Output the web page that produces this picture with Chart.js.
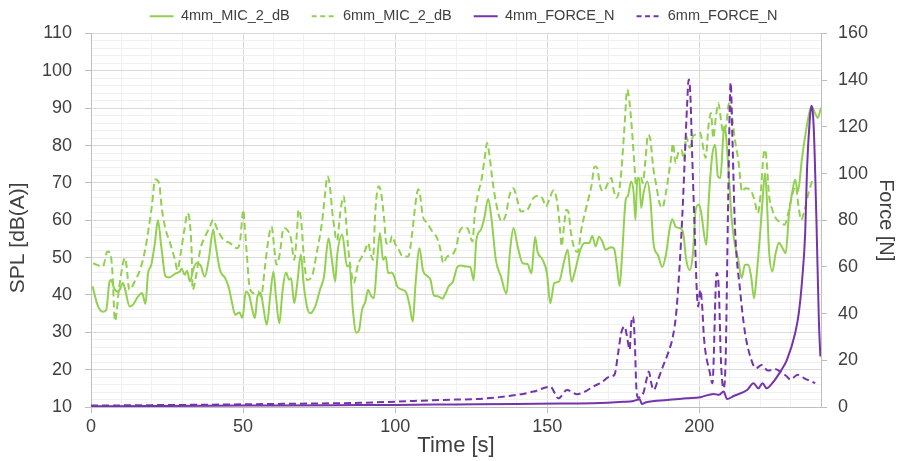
<!DOCTYPE html>
<html>
<head>
<meta charset="utf-8">
<script src="https://cdn.jsdelivr.net/npm/chart.js@4.4.1/dist/chart.umd.min.js"></script>
<style>
  html, body { margin: 0; padding: 0; background: #ffffff; }
  #chart { display: block; }
</style>
</head>
<body>
<canvas id="chart" width="903" height="461"></canvas>
<script>
// series names (legend order)
const seriesNames = ['4mm_MIC_2_dB', '6mm_MIC_2_dB', '4mm_FORCE_N', '6mm_FORCE_N'];

// 4mm microphone, SPL [dB(A)] vs time [s]
const mic4Time = [0.5, 2.3, 3.9, 5, 6.1, 6.6, 7.6, 8.7, 9.5, 10.5, 11.2, 12.7, 13.8, 15.5, 16.8, 17.9, 18.75, 19.8, 21, 22, 23.1, 24.5, 25.7, 27.7, 29.2, 29.8, 30.8, 31.6, 32.5, 33.6, 34.6, 36, 37.4, 38.7, 40.2, 40.8, 42.4, 44.1, 45.2, 46.3, 47.4, 48.8, 49.8, 50.9, 52.1, 52.9, 53.9, 54.7, 55.8, 56.6, 57.8, 58.9, 60, 60.8, 61.9, 63, 64.1, 65.1, 65.8, 66.8, 67.8, 69, 69.9, 71, 72, 73.7, 75.3, 76.6, 78.1, 79.2, 80.3, 80.9, 82.6, 84.2, 85, 86.1, 87.2, 88.1, 89.1, 90.2, 91.1, 91.9, 93, 94.1, 95, 96, 96.9, 97.7, 98.8, 99.6, 100.7, 102.3, 103.6, 104.7, 105.8, 106.7, 108, 109.1, 110.5, 111.6, 112.7, 114.3, 115.5, 116.6, 117.6, 119, 120.4, 121.6, 123.3, 124.7, 125.8, 126.7, 128.2, 129.2, 130.6, 131.7, 133.1, 134.8, 136.6, 137.8, 138.9, 140.3, 141.9, 143.5, 144.8, 146, 146.8, 148.5, 149.9, 151, 152.3, 153.9, 155.4, 156.7, 158, 159.1, 160.9, 162.3, 163.8, 164.8, 165.9, 167, 168.1, 169.2, 171.1, 172.1, 172.9, 173.8, 174.7, 175.8, 176.5, 177.6, 178.4, 179, 179.6, 180.2, 180.9, 181.7, 182.9, 183.9, 185, 186.4, 187.8, 189, 190.2, 191.1, 192.2, 193.5, 194.6, 195.7, 196.8, 197.9, 198.8, 199.9, 200.6, 202.3, 203.1, 204.2, 205.2, 206.1, 206.9, 207.9, 208.2, 208.7, 209.8, 210.6, 211.7, 212.8, 213.9, 215, 216.1, 217, 218, 218.9, 220, 220.8, 221.6, 222.1, 222.9, 224, 225.1, 226.2, 227.3, 228.4, 229.5, 230.6, 231.5, 232.4, 233.7, 234.8, 235.9, 236.9, 238, 238.9, 240];
const mic4Db = [42.3, 37, 35.5, 36, 43.6, 44, 41.8, 40.9, 41.5, 43.2, 41.5, 36.9, 37.4, 39.6, 40.5, 37.6, 45.8, 48, 53.9, 60, 53, 45, 44.7, 45.7, 46.3, 47, 45.4, 46.5, 43.6, 46.7, 48.5, 48, 44.9, 49.4, 57.5, 54.3, 46.7, 44.5, 42.3, 38.2, 34.7, 35.3, 33.8, 40.9, 39.6, 36.6, 33.8, 39.6, 40.6, 37, 32, 39.6, 46.3, 39.6, 32.4, 41.3, 46, 44.1, 44.5, 37.8, 43, 50.8, 43, 36.9, 35.1, 36.9, 41.4, 44.9, 55.2, 49.4, 43.6, 50.3, 56.1, 47.6, 48, 36, 29.9, 30.5, 36, 38.2, 41.4, 40, 39.1, 49.4, 56.6, 49.4, 50.3, 45.8, 46, 45.1, 42.3, 41.4, 40.7, 37.4, 32.9, 43, 52.5, 46.7, 45.1, 44.1, 39.9, 39.6, 39, 40.5, 42.3, 43.6, 47.4, 47.9, 47.6, 47.5, 44, 54.8, 57.5, 60.2, 65.7, 60.2, 49.4, 44.9, 40.3, 52.1, 57.9, 52.9, 48.5, 48.3, 45.8, 55.5, 51.6, 49.4, 45.8, 37.8, 43.2, 43.6, 48.5, 52.1, 43.6, 46.3, 52.1, 53.9, 53.9, 55.8, 53, 55.6, 54.3, 52.1, 52.8, 52.1, 47.6, 42.4, 52, 65.5, 66.5, 70.4, 67.4, 60.1, 70.9, 71.3, 63.3, 67.5, 70.4, 65.5, 53.4, 50.7, 47.5, 50.7, 57.5, 60.3, 58.3, 57.9, 57, 49.4, 46.7, 51.2, 62.8, 64.2, 62, 53.4, 65.5, 77.1, 80.2, 71.7, 71.3, 82.9, 85.1, 83.3, 70.9, 60.6, 53.4, 49.4, 44.5, 48.1, 48.1, 45.1, 39.1, 45.8, 56.6, 65.5, 72.6, 67.3, 52.1, 46.3, 51.2, 54, 52.6, 51.2, 61.9, 67.7, 70.9, 67.6, 76.2, 82.5, 87.8, 90.5, 88.7, 87.4, 90.1];

// 6mm microphone, SPL [dB(A)] vs time [s]
const mic6Time = [0.7, 3.9, 5.4, 6.3, 7, 7.9, 9.3, 11.2, 11.7, 12.6, 14.6, 16.1, 17.8, 18.9, 20, 21.1, 22.4, 23.2, 24.3, 26, 27.6, 28.4, 29.5, 30.6, 31.8, 32.5, 33.1, 33.4, 34.7, 35.9, 37.5, 39.1, 40.2, 41.3, 43.5, 45.7, 47.9, 49, 50.1, 50.4, 51.2, 52.1, 53.4, 55, 55.9, 57.2, 58.3, 59.4, 60.2, 61, 62.1, 63.3, 64.9, 65.8, 66.8, 67.7, 68.2, 69, 69.9, 71, 72.6, 74.2, 75.9, 77, 77.7, 78.4, 79.5, 80.9, 82, 83.1, 83.6, 84.5, 85.3, 86.4, 87.8, 89.1, 90.2, 91.1, 91.9, 92.7, 93.5, 94.6, 95.4, 96.3, 97.1, 98.1, 99, 100.1, 101.2, 102.5, 104.3, 105.6, 106.7, 107.6, 108.2, 109.1, 110.5, 112.2, 113.8, 114.9, 115.8, 117.1, 118.8, 120.2, 121, 122.8, 124, 125.4, 126.2, 127.3, 128.4, 129.5, 130.2, 130.9, 131.7, 132.6, 133.9, 135, 136.4, 137.5, 138.9, 140, 141.3, 143, 144.4, 145.5, 147.4, 148.5, 149.6, 150.7, 152.1, 152.9, 153.6, 154.3, 154.7, 155.6, 156.3, 156.9, 157.8, 158.9, 160, 161.2, 162.8, 164.5, 165.6, 166.4, 167.4, 168.5, 170, 171.1, 171.8, 172.7, 173.6, 174.3, 175.4, 176.3, 177.1, 178, 178.7, 179.2, 179.8, 180.7, 181.4, 182.3, 183.1, 183.9, 184.8, 185.9, 186.9, 187.8, 188.9, 190, 190.8, 191.3, 192.2, 193, 194.1, 194.9, 195.7, 196.8, 197.9, 199.2, 200.3, 200.8, 202.1, 203, 203.8, 204.6, 205.4, 206.3, 206.8, 207.9, 209, 209.5, 210.1, 210.9, 211.7, 212.8, 214.1, 215.1, 216.7, 218.1, 219.2, 220.3, 221, 221.6, 222.1, 222.9, 224, 225.1, 226.5, 228, 229, 230.2, 231, 231.7, 232.6, 233.5, 234.6, 235.9, 237.5];
const mic6Db = [48.5, 47.6, 51.6, 51.2, 46.7, 33, 42.3, 49.9, 47.6, 41.4, 44, 46.7, 52.1, 57.5, 63.7, 70.9, 70, 63.7, 58.3, 53.9, 49.4, 46.7, 51.2, 57, 61.9, 59.3, 51.2, 41.4, 45.8, 52.1, 55.6, 58.3, 60.1, 58, 54.8, 53.9, 52.5, 54.3, 62.8, 60, 51.2, 42.3, 40.5, 41, 39.6, 47.6, 54.8, 58.3, 52.9, 48.1, 51.2, 57.9, 57, 54.8, 49.4, 56.6, 62.8, 60.6, 51.2, 44, 44.9, 51.2, 59.2, 67.3, 71.7, 70, 61, 54.5, 62.4, 66.4, 62.8, 53, 47.6, 43.2, 48.2, 50.3, 52.1, 53.9, 51.2, 49.4, 62.8, 69.1, 67.3, 61, 53.9, 53.5, 55.8, 53.5, 52.1, 50.3, 50.3, 56.6, 64.6, 68.3, 66.7, 61, 59.3, 57, 55.2, 52.1, 48.5, 50.3, 50.8, 53.2, 56.6, 58.1, 57.6, 54.3, 61.9, 67.3, 70.9, 77.1, 80.7, 78, 72.6, 67.3, 61.9, 59.7, 61.5, 66.4, 68.6, 65.9, 62.4, 62.4, 64.2, 66, 66.6, 65.7, 63.7, 65.7, 68, 66.4, 62.8, 56.6, 53, 59.1, 62.8, 62.4, 56.6, 52.5, 51.5, 57.5, 63.3, 69.1, 74.4, 74, 69.1, 67.8, 70, 71.3, 68.2, 66, 67.8, 72.6, 85.1, 95, 91.2, 82.5, 74.4, 69.1, 71.3, 71.7, 70, 76.2, 82.9, 81.6, 74.4, 69.1, 64.6, 63.3, 66.8, 72.6, 77.1, 80.6, 75.3, 78, 78.9, 76.2, 82.5, 79.4, 82.5, 83, 83.4, 81.6, 76.7, 85.1, 88.7, 82, 87.4, 91.4, 88.7, 83.4, 86.6, 90.5, 91.4, 86.9, 81.6, 76.2, 67.7, 68.6, 68.2, 65.5, 61.9, 68.2, 76.7, 78.9, 76.2, 66.8, 62.8, 60.6, 59.5, 58.8, 61, 65.5, 68.2, 69.1, 63.7, 60.1, 62.8, 67.3, 71.5];

// 4mm force [N] vs time [s]
const force4Time = [0, 20, 50, 80, 100, 120, 140, 155, 165, 175, 178.4, 180.4, 181.1, 182.5, 189.4, 195.9, 200.3, 204.7, 206.4, 208, 209.1, 211.3, 215.7, 217.8, 219.4, 220.8, 222.1, 224, 227, 228.8, 231.5, 232.7, 233.8, 234.8, 235.4, 236.3, 236.8, 237.6, 238.5, 239.3, 239.8];
const force4N = [0.3, 0.4, 0.6, 0.8, 0.9, 1.1, 1.3, 1.5, 1.6, 2.2, 2.6, 3.3, 1.3, 2, 3, 3.7, 4.2, 5.6, 5.2, 6.6, 3.4, 4.7, 7.3, 10.2, 8, 10.2, 8, 10.2, 15.9, 20.2, 31.6, 40.2, 54.5, 74.5, 101.7, 123, 129, 120, 80, 37, 21.6];

// 6mm force [N] vs time [s]
const force6Time = [0, 20, 40, 60, 88.5, 100, 114.8, 130.2, 140, 145.5, 151, 153.7, 156.5, 159.8, 163, 165, 167.8, 170.5, 172.1, 173.3, 174.3, 175.4, 176.2, 177.1, 177.6, 178.2, 178.8, 179.3, 179.9, 181.7, 182.6, 183.4, 184.2, 185, 186.4, 188, 189.7, 191.3, 192.4, 193.5, 194.4, 195.2, 196, 196.5, 197, 197.7, 198.5, 199.2, 199.6, 200.3, 200.9, 201.5, 203.5, 204.3, 205.7, 206.4, 207.1, 207.9, 208.6, 209.5, 210.3, 210.9, 211.7, 213.4, 215, 216.9, 218.6, 220.5, 222.5, 225.2, 227.2, 228.4, 230, 232.3, 234.5, 238.1];
const force6N = [0.6, 0.8, 1, 1.3, 1.8, 2.3, 3, 3.7, 5.2, 6.6, 8.7, 3.7, 7.3, 5.5, 7, 8.7, 10.5, 13, 13.8, 23, 31.6, 34.5, 30.3, 24.5, 35.6, 38.8, 27.6, 8, 4, 6.4, 11.6, 15.2, 10.2, 7.3, 11.6, 17.3, 23, 30.2, 40.2, 60.2, 81.7, 106, 130, 140.3, 135, 106, 74.5, 48.8, 43, 50.2, 44, 30, 14.4, 10.2, 57.4, 50.5, 20, 8, 18, 90, 139, 114, 77.4, 50, 32, 21, 16.6, 18, 15.6, 16.2, 14.4, 13.5, 11.8, 13.8, 12.3, 10.2];

// axis ranges
const timeRange = [0, 240];
const splRange = [10, 110];
const forceRange = [0, 160];

const green = '#92d050';
const purple = '#7434ab';
const textColor = '#404040';
const fontFamily = "'Liberation Sans', Arial, sans-serif";

function toPoints(xs, ys) {
    return xs.map((x, i) => ({ x: x, y: ys[i] }));
}

document.addEventListener("DOMContentLoaded", function () {
    const ctx = document.getElementById('chart').getContext('2d');

    const lineDefaults = {
        borderWidth: 2,
        pointRadius: 0,
        fill: false,
        cubicInterpolationMode: 'monotone'
    };

    new Chart(ctx, {
        type: 'line',
        data: {
            datasets: [
                Object.assign({}, lineDefaults, {
                    label: seriesNames[0],
                    data: toPoints(mic4Time, mic4Db),
                    borderColor: green,
                    backgroundColor: green,
                    yAxisID: 'y',
                    order: 3
                }),
                Object.assign({}, lineDefaults, {
                    label: seriesNames[1],
                    data: toPoints(mic6Time, mic6Db),
                    borderColor: green,
                    backgroundColor: green,
                    borderDash: [7, 4],
                    yAxisID: 'y',
                    order: 2
                }),
                Object.assign({}, lineDefaults, {
                    label: seriesNames[2],
                    data: toPoints(force4Time, force4N),
                    borderColor: purple,
                    backgroundColor: purple,
                    yAxisID: 'y1',
                    order: 0
                }),
                Object.assign({}, lineDefaults, {
                    label: seriesNames[3],
                    data: toPoints(force6Time, force6N),
                    borderColor: purple,
                    backgroundColor: purple,
                    borderDash: [7, 4],
                    yAxisID: 'y1',
                    order: 1
                })
            ]
        },
        options: {
            responsive: false,
            animation: false,
            devicePixelRatio: 1,
            layout: {
                padding: { left: 24, top: -13, right: 0, bottom: 0 }
            },
            plugins: {
                legend: {
                    position: 'top',
                    labels: {
                        usePointStyle: true,
                        pointStyle: 'line',
                        pointStyleWidth: 24,
                        padding: 22,
                        color: textColor,
                        font: { family: fontFamily, size: 14.5 },
                        sort: (a, b) => a.datasetIndex - b.datasetIndex,
                        generateLabels: function (chart) {
                            const items = Chart.defaults.plugins.legend.labels.generateLabels(chart);
                            items.forEach(item => {
                                const ds = chart.data.datasets[item.datasetIndex];
                                item.lineDash = ds.borderDash ? [5, 3.5] : [];
                            });
                            return items;
                        }
                    }
                },
                tooltip: { enabled: false }
            },
            scales: {
                x: {
                    type: 'linear',
                    min: timeRange[0],
                    max: timeRange[1],
                    afterFit: function (scale) { scale.height = 54; },
                    border: { color: '#bfbfbf', width: 1 },
                    grid: {
                        color: c => (c.tick && c.tick.value % 50 === 0) ? '#d9d9d9' : '#f0f0f0',
                        tickColor: c => (c.tick && c.tick.value % 50 === 0) ? '#bfbfbf' : 'rgba(0,0,0,0)',
                        tickLength: 6
                    },
                    ticks: {
                        stepSize: 10,
                        autoSkip: false,
                        maxRotation: 0,
                        padding: 3,
                        color: textColor,
                        font: { family: fontFamily, size: 18 },
                        callback: function (value) {
                            return value % 50 === 0 ? value : '';
                        }
                    },
                    title: {
                        display: true,
                        text: 'Time [s]',
                        color: textColor,
                        font: { family: fontFamily, size: 22 },
                        padding: { top: 0, bottom: 2 }
                    }
                },
                y: {
                    position: 'left',
                    min: splRange[0],
                    max: splRange[1],
                    afterFit: function (scale) { scale.width = 67; },
                    border: { color: '#bfbfbf', width: 1 },
                    grid: {
                        color: c => (c.tick && c.tick.value % 10 === 0) ? '#d9d9d9' : '#f0f0f0',
                        tickColor: c => (c.tick && c.tick.value % 10 === 0) ? '#bfbfbf' : 'rgba(0,0,0,0)',
                        tickLength: 6
                    },
                    ticks: {
                        stepSize: 2,
                        autoSkip: false,
                        padding: 13,
                        color: textColor,
                        font: { family: fontFamily, size: 18 },
                        callback: function (value) {
                            return value % 10 === 0 ? value : '';
                        }
                    },
                    title: {
                        display: true,
                        // trailing spaces push the centred title a little lower, as in the original
                        text: 'SPL [dB(A)]      ',
                        color: textColor,
                        font: { family: fontFamily, size: 21 },
                        padding: { top: -18, bottom: 0 }
                    }
                },
                y1: {
                    position: 'right',
                    min: forceRange[0],
                    max: forceRange[1],
                    afterFit: function (scale) { scale.width = 82; },
                    border: { color: '#bfbfbf', width: 1 },
                    grid: {
                        drawOnChartArea: false,
                        tickColor: '#bfbfbf',
                        tickLength: 6
                    },
                    ticks: {
                        stepSize: 20,
                        padding: 11,
                        color: textColor,
                        font: { family: fontFamily, size: 18 }
                    },
                    title: {
                        display: true,
                        text: 'Force [N]',
                        color: textColor,
                        font: { family: fontFamily, size: 20 },
                        padding: { top: 5, bottom: 0 }
                    }
                }
            }
        }
    });
});
</script>
</body>
</html>
